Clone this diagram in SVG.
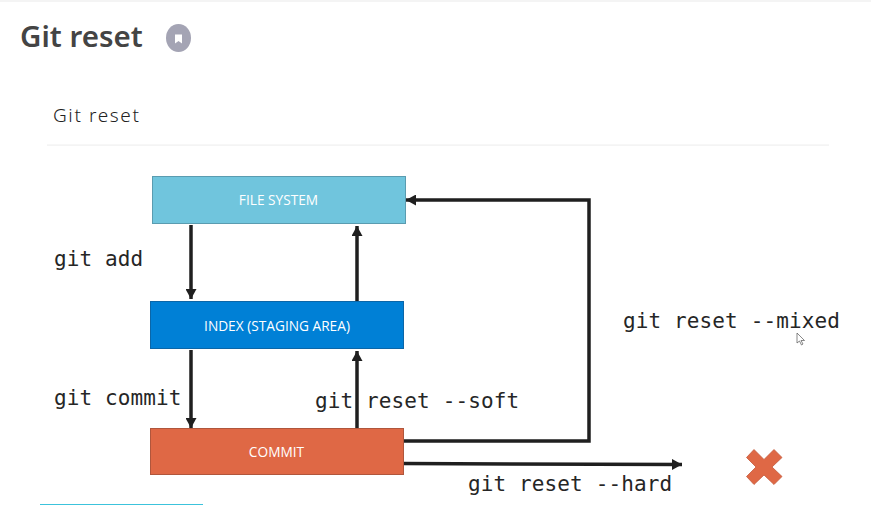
<svg xmlns="http://www.w3.org/2000/svg" width="871" height="505" viewBox="0 0 871 505">
<style>
.box{stroke-width:1}
.lbl{font-family:"Open Sans","Noto Sans",sans-serif;font-size:13.700px;fill:#fff;text-anchor:middle}
.code{font-family:"DejaVu Sans Mono","Liberation Mono",monospace;font-size:21px;letter-spacing:.12px;fill:#262626}
.c{fill:none;stroke:#1f1f1f;stroke-width:3.500}
</style>
<defs>
<marker id="ah" markerUnits="userSpaceOnUse" markerWidth="11" markerHeight="11" refX="10" refY="5.500" orient="auto"><path d="M0 0L10 5.500L0 11Z" fill="#1f1f1f"/></marker>
</defs>
<rect width="871" height="505" fill="#fff"/>
<rect width="871" height="2" fill="#f4f4f4"/>
<g id="header">
<text x="20" y="47" font-family="'Noto Sans','Open Sans',sans-serif" font-weight="600" font-size="29.500" fill="#444">Git reset</text>
<ellipse cx="178.500" cy="38" rx="12.500" ry="14" fill="#a4a4b4"/>
<path d="M175 34.500H182V43.500L178.500 41L175 43.500Z" fill="#fff"/>
<text x="53" y="122" font-family="'Noto Sans','Open Sans',sans-serif" font-weight="300" font-size="19" letter-spacing="1.600" fill="#222">Git reset</text>
<rect x="47" y="144.500" width="782" height="1.200" fill="#f0f0f0"/>
</g>
<g id="connectors">
<path class="c" d="M191 225V299" marker-end="url(#ah)"/>
<path class="c" d="M357 301V226" marker-end="url(#ah)"/>
<path class="c" d="M191 350V428" marker-end="url(#ah)"/>
<path class="c" d="M357 428V351" marker-end="url(#ah)"/>
<path class="c" d="M403 441H589V200H406" marker-end="url(#ah)"/>
<path class="c" d="M403 463.500L682 464.500" marker-end="url(#ah)"/>
</g>
<g id="file-system">
<rect class="box" x="152.500" y="176.500" width="253" height="47" fill="#70c5dd" stroke="#5a9cb0"/>
<text class="lbl" x="278.500" y="205">FILE SYSTEM</text>
</g>
<g id="index">
<rect class="box" x="150.500" y="301.500" width="253" height="47" fill="#0080d6" stroke="#0b66a8"/>
<text class="lbl" x="277" y="330.500">INDEX (STAGING AREA)</text>
</g>
<g id="commit">
<rect class="box" x="150.500" y="428.500" width="253" height="46" fill="#df6845" stroke="#b0563c"/>
<text class="lbl" x="276.500" y="457">COMMIT</text>
</g>
<g id="labels">
<text class="code" x="54" y="266">git add</text>
<text class="code" x="54" y="405">git commit</text>
<text class="code" x="315" y="408">git reset --soft</text>
<text class="code" x="623" y="328">git reset --mixed</text>
<text class="code" x="468" y="491">git reset --hard</text>
</g>
<g id="x-mark">
<path d="M754 449.500L764 459.500L774 449.500L782 457.500L772 467L782 476.500L774 484.500L764 475L754 484.500L746.500 476.500L756 467L746.500 457.500Z" fill="#df6845" stroke="#c45a3c" stroke-width="0.800"/>
</g>
<path id="cursor" d="M797 333V343L799.500 341L801.500 345L803 344L801 340.500H804.500Z" fill="#fff" stroke="#555" stroke-width="0.700"/>
<rect x="40" y="504" width="163" height="1" fill="#3cc3dc"/>
</svg>
